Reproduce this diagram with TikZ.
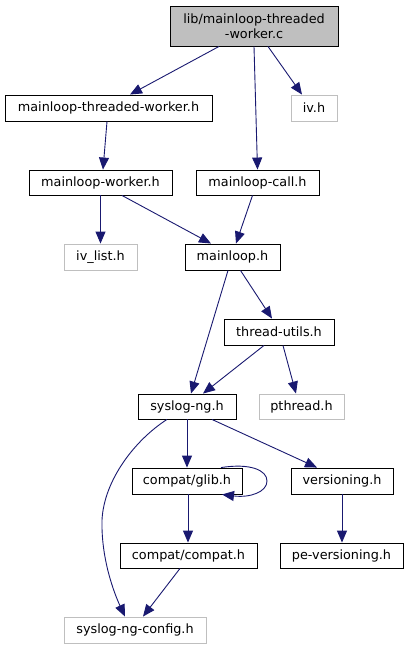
\documentclass[tikz,border=0pt]{standalone}
\usepackage{fontspec}
\setmainfont{DejaVu Sans}
\usetikzlibrary{arrows.meta}
\definecolor{edgeblue}{HTML}{191970}
\definecolor{grayline}{HTML}{BFBFBF}
\begin{document}
\begin{tikzpicture}[x=1pt,y=-1pt,
  box/.style={draw=black, line width=0.9pt, fill=white, inner sep=0pt, font=\fontsize{12.8}{15.5}\selectfont, text=black},
  extbox/.style={box, draw=grayline},
  mainbox/.style={box, fill=grayline, align=center},
  edge/.style={draw=edgeblue, line width=0.9pt, -{Triangle[length=12pt,width=10pt]}}]
\useasboundingbox (0,0) rectangle (409,649);

\node[mainbox, minimum width=168pt, minimum height=40pt] (top) at (254,26) {lib/mainloop-threaded\\-worker.c};
\node[box, minimum width=207pt, minimum height=26pt] (mtw) at (108.5,108) {mainloop-threaded-worker.h};
\node[extbox, minimum width=46pt, minimum height=26pt] (iv) at (314,108) {iv.h};
\node[box, minimum width=143pt, minimum height=25pt] (mw) at (100.5,182.5) {mainloop-worker.h};
\node[box, minimum width=123pt, minimum height=25pt] (mc) at (257.5,182.5) {mainloop-call.h};
\node[extbox, minimum width=73pt, minimum height=26pt] (ivl) at (100.5,257) {iv\_list.h};
\node[box, minimum width=95pt, minimum height=26pt] (ml) at (232.5,257) {mainloop.h};
\node[box, minimum width=110pt, minimum height=26pt] (tu) at (279,332) {thread-utils.h};
\node[box, minimum width=98pt, minimum height=25pt] (sng) at (187,406.5) {syslog-ng.h};
\node[extbox, minimum width=85pt, minimum height=25pt] (pth) at (301.5,406.5) {pthread.h};
\node[box, minimum width=110pt, minimum height=26pt] (glib) at (187,481) {compat/glib.h};
\node[box, minimum width=102pt, minimum height=26pt] (ver) at (342,481) {versioning.h};
\node[box, minimum width=137pt, minimum height=25pt] (compat) at (188.5,555.5) {compat/compat.h};
\node[box, minimum width=123pt, minimum height=25pt] (pever) at (341.5,555.5) {pe-versioning.h};
\node[extbox, minimum width=142pt, minimum height=26pt] (cfg) at (135,630) {syslog-ng-config.h};

\draw[edge] ([xshift=-35pt]top.south) -- ([xshift=21.5pt]mtw.north);
\draw[edge] (top.south) -- (mc.north);
\draw[edge] ([xshift=14pt]top.south) -- ([xshift=-12pt]iv.north);
\draw[edge] ([xshift=-1.5pt]mtw.south) -- ([xshift=2.5pt]mw.north);
\draw[edge] (mw.south) -- (ivl.north);
\draw[edge] ([xshift=21.5pt]mw.south) -- ([xshift=-21.5pt]ml.north);
\draw[edge] ([xshift=-5pt]mc.south) -- ([xshift=3.5pt]ml.north);
\draw[edge] ([xshift=8pt]ml.south) -- ([xshift=-7pt]tu.north);
\draw[edge] ([xshift=-4.5pt]ml.south) -- ([xshift=4pt]sng.north);
\draw[edge] ([xshift=-15pt]tu.south) -- ([xshift=16pt]sng.north);
\draw[edge] ([xshift=4pt]tu.south) -- ([xshift=-5.5pt]pth.north);
\draw[edge] (sng.south) -- (glib.north);
\draw[edge] ([xshift=25pt]sng.south) -- ([xshift=-25pt]ver.north);
\draw[edge] ([xshift=-20pt]sng.south) .. controls (135,440) and (104,480) .. (102,520) .. controls (101,560) and (115,595) .. ([xshift=-10pt]cfg.north);
\draw[edge] ([xshift=34pt]glib.north) .. controls (250,463) and (267,470) .. (267,481) .. controls (267,492) and (250,498) .. ([xshift=35pt]glib.south);
\draw[edge] ([xshift=1pt]glib.south) -- ([xshift=-0.5pt]compat.north);
\draw[edge] (ver.south) -- ([xshift=0.5pt]pever.north);
\draw[edge] ([xshift=-8.5pt]compat.south) -- ([xshift=8pt]cfg.north);
\end{tikzpicture}
\end{document}
